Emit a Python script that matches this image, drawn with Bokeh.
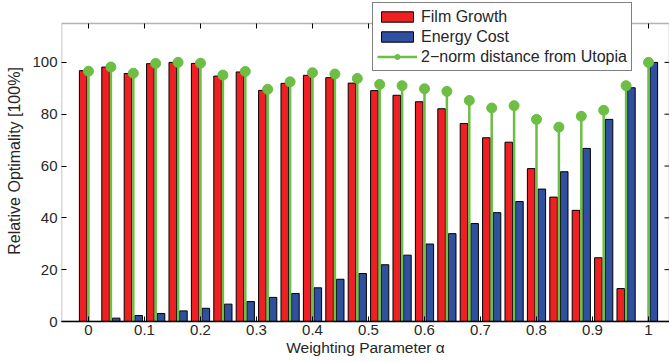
from bokeh.plotting import figure
from bokeh.models import ColumnDataSource, Range1d, FixedTicker, Legend, LegendItem, BoxAnnotation
from bokeh.transform import dodge
from bokeh.embed import file_html
from bokeh.resources import INLINE

# ---- data ----
alpha = [0.00, 0.04, 0.08, 0.12, 0.16, 0.20, 0.24, 0.28, 0.32, 0.36, 0.40, 0.44, 0.48,
         0.52, 0.56, 0.60, 0.64, 0.68, 0.72, 0.76, 0.80, 0.84, 0.88, 0.92, 0.96, 1.00]
film_growth = [96.8, 98.2, 95.7, 99.5, 100.0, 99.6, 94.7, 96.3, 89.2, 91.9, 95.0, 94.1, 92.0,
               89.1, 87.3, 84.8, 82.1, 76.4, 70.9, 69.2, 59.0, 48.0, 42.9, 24.6, 12.7, 0.0]
energy_cost = [0.0, 1.3, 2.3, 3.1, 4.1, 5.1, 6.7, 7.7, 9.3, 10.8, 13.0, 16.3, 18.5,
               21.9, 25.6, 29.9, 33.9, 37.8, 42.0, 46.3, 51.1, 57.8, 66.8, 78.0, 90.2, 100.0]
distance = [96.6, 98.2, 95.8, 99.6, 100.0, 99.7, 95.1, 96.5, 89.6, 92.5, 96.0, 95.5, 93.8,
            91.5, 91.0, 89.8, 88.8, 85.3, 82.4, 83.3, 78.0, 75.0, 79.2, 81.5, 91.0, 100.0]

x_ticks = [0, 0.1, 0.2, 0.3, 0.4, 0.5, 0.6, 0.7, 0.8, 0.9, 1]
x_tick_labels = ["0", "0.1", "0.2", "0.3", "0.4", "0.5", "0.6", "0.7", "0.8", "0.9", "1"]
y_ticks = [0, 20, 40, 60, 80, 100]

series_names = ["Film Growth", "Energy Cost", "2\u2212norm distance from Utopia"]

# ---- style / layout ----
RED = "#ED2024"
BLUE = "#2F4F9F"
GREEN = "#6DBE45"
FONT = "Liberation Sans"
TXT = "#262626"

W, H = 669, 362
BORDER_L, BORDER_B = 61, 41
BOX_TOP_PX = 23              # axes box top, pixels below the page top
X_LO, X_HI = -0.0482, 1.0375
Y_BOX_TOP = 115
FRAME_H = H - BORDER_B
PX_PER_Y = (FRAME_H - BOX_TOP_PX) / Y_BOX_TOP
Y_HI = Y_BOX_TOP + BOX_TOP_PX / PX_PER_Y
PX_PER_X = (W - BORDER_L) / (X_HI - X_LO)
TICK_PX = 5

src = ColumnDataSource(dict(alpha=alpha, film=film_growth, energy=energy_cost, dist=distance))

p = figure(width=W, height=H, output_backend="svg", toolbar_location=None,
           x_range=Range1d(X_LO, X_HI), y_range=Range1d(0, Y_HI),
           min_border_left=BORDER_L, min_border_right=0, min_border_top=0,
           min_border_bottom=BORDER_B)
p.background_fill_color = "white"
p.border_fill_color = "white"
p.outline_line_color = None
p.xgrid.visible = False
p.ygrid.visible = False

bw = 0.0135
off = 0.0095
r_film = p.vbar(x=dodge("alpha", -off), top="film", width=bw, source=src,
                fill_color=RED, line_color="black", line_width=1)
r_energy = p.vbar(x=dodge("alpha", off), top="energy", width=bw, source=src,
                  fill_color=BLUE, line_color="black", line_width=1)
r_stem = p.segment(x0="alpha", y0=0, x1="alpha", y1="dist", source=src,
                   line_color=GREEN, line_width=2.5)
r_dot = p.scatter(x="alpha", y="dist", source=src, size=10,
                  fill_color=GREEN, line_color=GREEN)

# ticks on the top and right sides of the axes box
p.segment(x0=x_ticks, y0=[Y_BOX_TOP] * len(x_ticks), x1=x_ticks,
          y1=[Y_BOX_TOP - TICK_PX / PX_PER_Y] * len(x_ticks), line_color="black", line_width=1)
p.segment(x0=[X_HI] * len(y_ticks), y0=y_ticks, x1=[X_HI - TICK_PX / PX_PER_X] * len(y_ticks),
          y1=y_ticks, line_color="black", line_width=1)

def style_axis(ax):
    ax.axis_line_color = "black"
    ax.axis_line_width = 1.5
    ax.major_tick_in = TICK_PX
    ax.major_tick_out = 0
    ax.minor_tick_line_color = None
    ax.major_tick_line_color = "black"
    ax.major_label_text_font = FONT
    ax.major_label_text_color = TXT
    ax.axis_label_text_font = FONT
    ax.axis_label_text_color = TXT
    ax.axis_label_text_font_style = "normal"

xa = p.xaxis[0]
style_axis(xa)
xa.ticker = FixedTicker(ticks=x_ticks)
xa.major_label_overrides = {t: l for t, l in zip(x_ticks, x_tick_labels)}
xa.major_label_text_font_size = "15px"
xa.major_label_standoff = 3
xa.axis_label = "Weighting Parameter \u03b1"
xa.axis_label_text_font_size = "15.5px"
xa.axis_label_standoff = 1

ya = p.yaxis[0]
style_axis(ya)
ya.axis_line_color = None
ya.ticker = FixedTicker(ticks=y_ticks)
ya.major_label_text_font_size = "15px"
ya.major_label_standoff = 4
ya.axis_label = "Relative Optimality [100%]"
ya.axis_label_text_font_size = "16px"
ya.axis_label_standoff = 6

box = BoxAnnotation(left=X_LO, right=X_HI, bottom=0, top=Y_BOX_TOP,
                    fill_alpha=0, line_color="black", line_width=1.5)
p.add_layout(box)

legend = Legend(items=[
    LegendItem(label=series_names[0], renderers=[r_film]),
    LegendItem(label=series_names[1], renderers=[r_energy]),
    LegendItem(label=series_names[2], renderers=[r_stem, r_dot]),
], location=(311, 250))
legend.label_text_font = FONT
legend.label_text_font_size = "16px"
legend.label_text_color = TXT
legend.glyph_width = 40
legend.glyph_height = 13
legend.label_height = 19
legend.spacing = 1
legend.padding = 4
legend.margin = 0
legend.label_standoff = 4
legend.border_line_color = "black"
legend.border_line_width = 1.5
legend.background_fill_color = "white"
legend.background_fill_alpha = 1.0
p.add_layout(legend, "center")

open("out.html", "w").write(file_html(p, INLINE))
